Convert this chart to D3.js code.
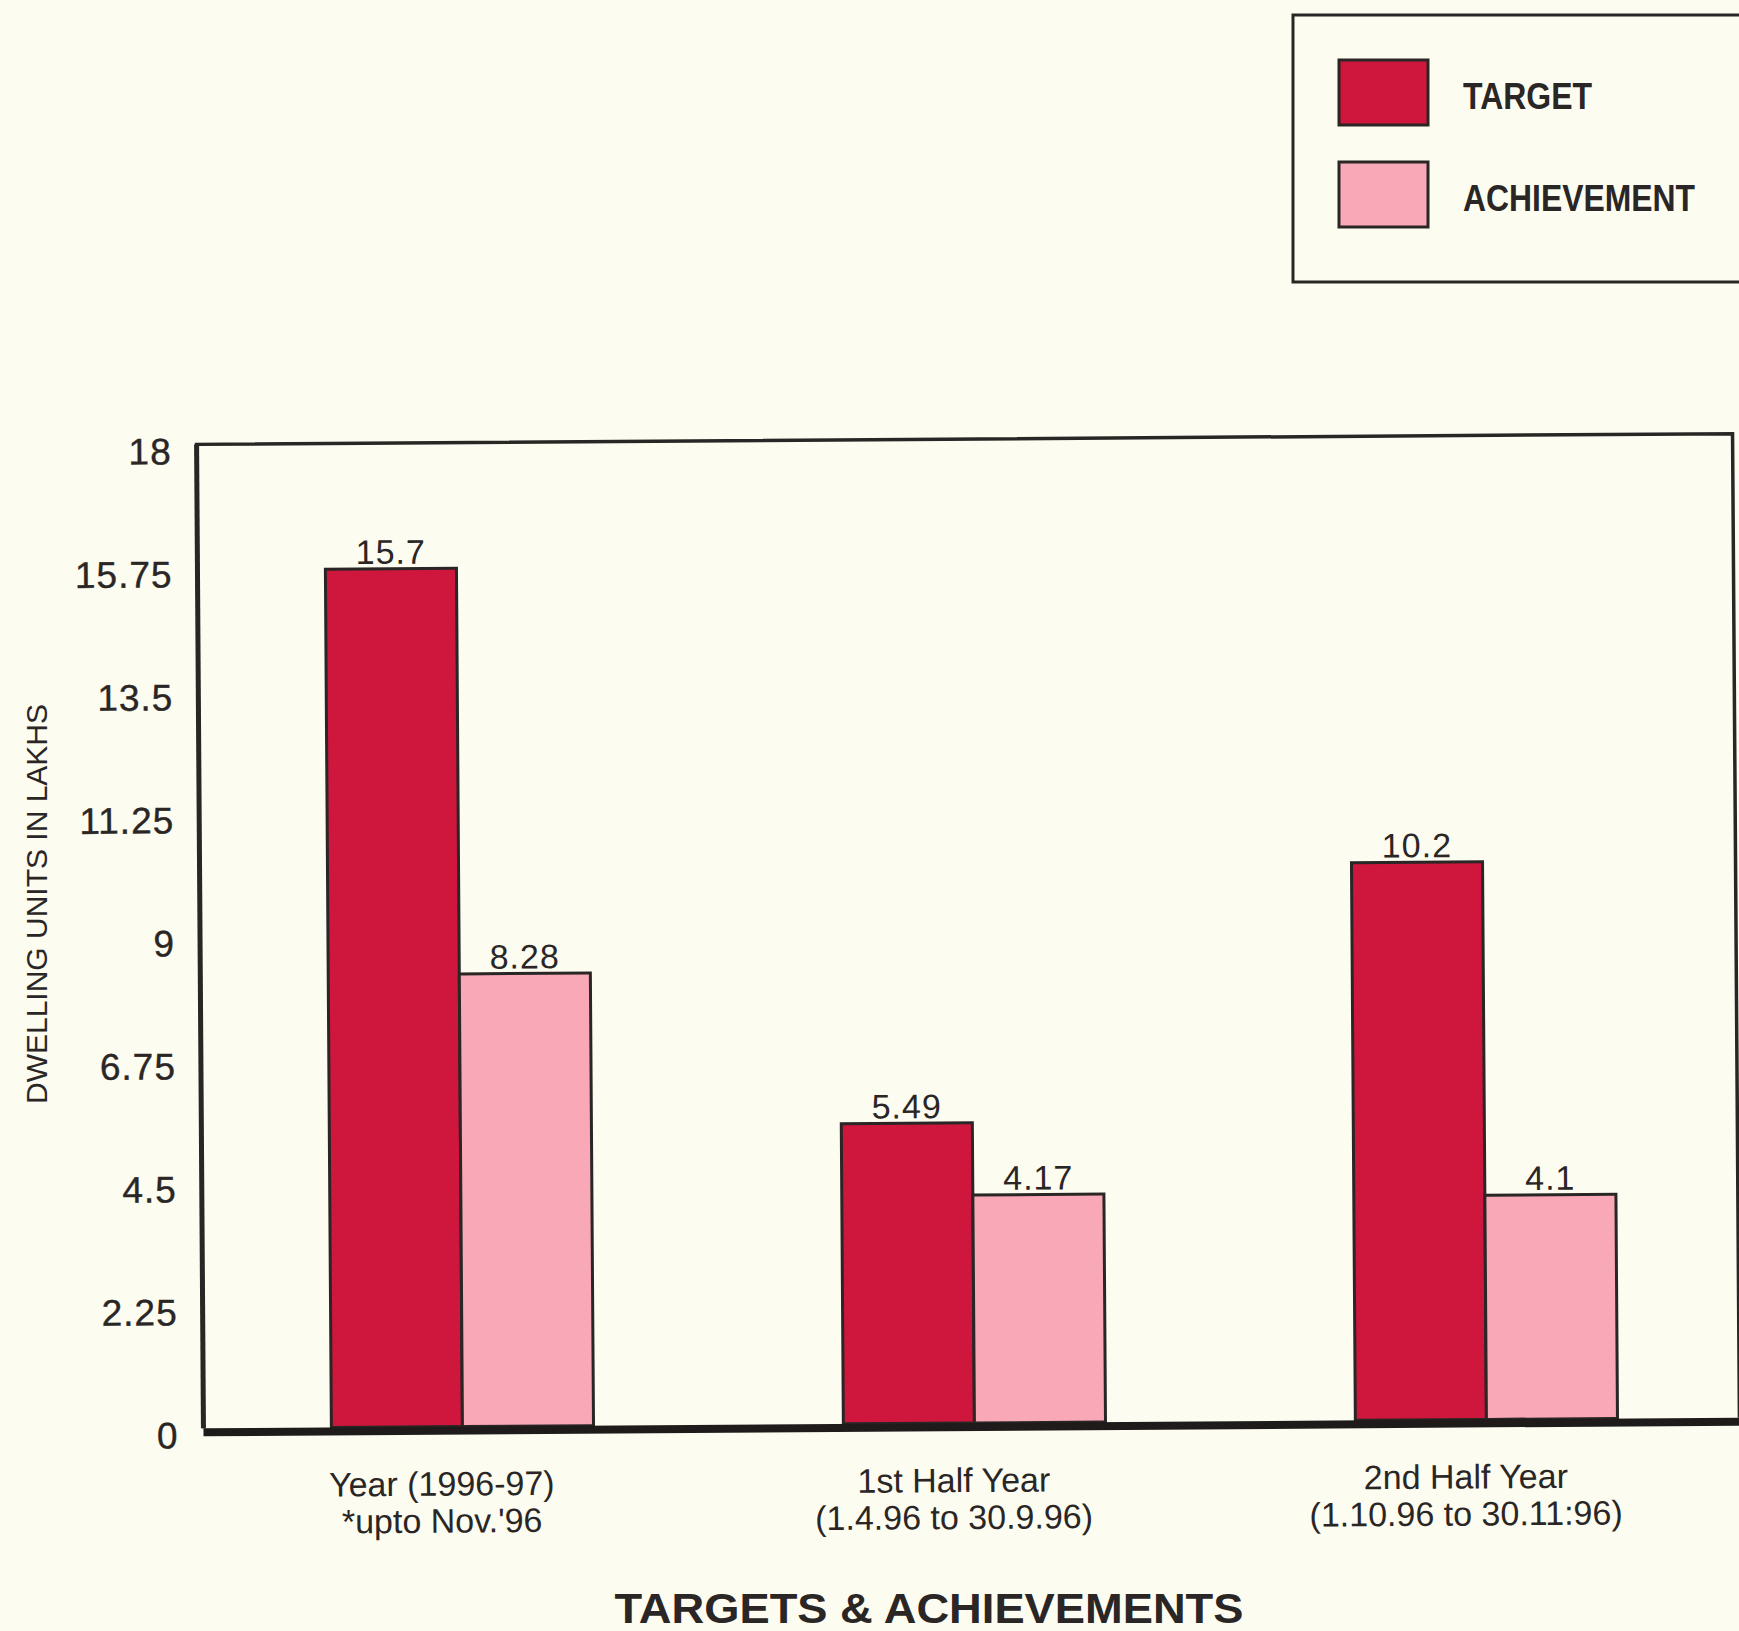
<!DOCTYPE html>
<html>
<head>
<meta charset="utf-8">
<script src="https://cdn.jsdelivr.net/npm/d3@7"></script>
<style>
  html, body { margin: 0; padding: 0; background: #fdfcf0; }
  svg { display: block; }
</style>
</head>
<body>
<svg id="chart" width="1739" height="1631"></svg>
<script>
// Dwelling units: targets vs achievements, 1996-97 (lakhs)
const categories = ["Year (1996-97)", "1st Half Year", "2nd Half Year"];
const categoryNotes = ["*upto Nov.'96", "(1.4.96 to 30.9.96)", "(1.10.96 to 30.11:96)"];
const seriesNames = ["TARGET", "ACHIEVEMENT"];
const targetValues = [15.7, 5.49, 10.2];
const achievementValues = [8.28, 4.17, 4.1];
const yTickValues = [0, 2.25, 4.5, 6.75, 9, 11.25, 13.5, 15.75, 18];
const yTickLabels = ["0", "2.25", "4.5", "6.75", "9", "11.25", "13.5", "15.75", "18"];
const yTitle = "DWELLING UNITS IN LAKHS";
const chartTitle = "TARGETS & ACHIEVEMENTS";

const colors = { TARGET: "#cf163c", ACHIEVEMENT: "#f9a8b7" };
const ink = "#2a2625";
const sans = "'Liberation Sans', Arial, sans-serif";
const narrow = "'Liberation Sans Narrow', 'Arial Narrow', 'Liberation Sans', sans-serif";

const rows = categories.map((c, i) => ({
  category: c,
  note: categoryNotes[i],
  values: [
    { series: seriesNames[0], value: targetValues[i] },
    { series: seriesNames[1], value: achievementValues[i] }
  ]
}));

const svg = d3.select("#chart");
const frame = { left: 200, right: 1736 };

const y = d3.scaleLinear().domain([0, 18]).range([1423, 439]);
const x0 = d3.scaleBand().domain(categories).range([203, 1739])
  .paddingInner(0.488).paddingOuter(0.244);
const x1 = d3.scaleBand().domain(seriesNames).range([0, x0.bandwidth()]);

// Plot area, slightly turned as on the printed sheet
const plot = svg.append("g").attr("transform", "rotate(-0.4, 968, 931)");

// Frame around the plot
plot.append("path")
  .attr("d", `M${frame.left},${y(0)} V${y(18)} H${frame.right} V${y(0)}`)
  .attr("fill", "none").attr("stroke", ink).attr("stroke-width", 3.5);
plot.append("line")
  .attr("x1", frame.left).attr("x2", frame.left)
  .attr("y1", y(18)).attr("y2", y(0))
  .attr("stroke", ink).attr("stroke-width", 5);

// Y axis labels
const yAxis = d3.axisLeft(y).tickValues(yTickValues).tickSize(0)
  .tickPadding(0).tickFormat((d, i) => yTickLabels[i]);
const yG = plot.append("g").attr("transform", "translate(175,0)").call(yAxis);
yG.select(".domain").remove();
yG.selectAll("text")
  .attr("font-family", sans).attr("font-size", 37).attr("fill", ink)
  .attr("stroke", ink).attr("stroke-width", 0.4)
  .attr("letter-spacing", 1).attr("dy", "0.52em");

// Bars
const groups = plot.selectAll(".grp").data(rows).join("g")
  .attr("class", "grp")
  .attr("transform", d => `translate(${x0(d.category)},0)`);

groups.selectAll("rect").data(d => d.values).join("rect")
  .attr("x", d => x1(d.series))
  .attr("y", d => y(d.value))
  .attr("width", x1.bandwidth())
  .attr("height", d => y(0) - y(d.value))
  .attr("fill", d => colors[d.series])
  .attr("stroke", ink).attr("stroke-width", 3);

groups.selectAll(".val").data(d => d.values).join("text")
  .attr("class", "val")
  .attr("x", d => x1(d.series) + x1.bandwidth() / 2)
  .attr("y", d => y(d.value) - 5)
  .attr("text-anchor", "middle")
  .attr("font-family", sans).attr("font-size", 34).attr("letter-spacing", 1)
  .attr("fill", ink)
  .text(d => d.value);

// Baseline (x axis domain) and category labels
const xAxis = d3.axisBottom(x0).tickSize(0).tickFormat("");
const xG = plot.append("g").attr("transform", `translate(0,${y(0) + 4})`).call(xAxis);
xG.select(".domain")
  .attr("d", `M${frame.left},0 H1739`)
  .attr("stroke", "#1f1b1a").attr("stroke-width", 8);

const labels = plot.selectAll(".xlab").data(rows).join("text")
  .attr("class", "xlab")
  .attr("text-anchor", "middle")
  .attr("font-family", sans).attr("font-size", 34).attr("fill", ink);
labels.append("tspan")
  .attr("x", d => x0(d.category) + x0.bandwidth() / 2 - 21)
  .attr("y", y(0) + 69)
  .text(d => d.category);
labels.append("tspan")
  .attr("x", d => x0(d.category) + x0.bandwidth() / 2 - 21)
  .attr("y", y(0) + 106)
  .text(d => d.note);

// Y axis title
svg.append("text")
  .attr("transform", "translate(47,904) rotate(-90)")
  .attr("text-anchor", "middle")
  .attr("font-family", narrow).attr("font-size", 30).attr("fill", ink)
  .attr("textLength", 400).attr("lengthAdjust", "spacingAndGlyphs")
  .text(yTitle);

// Chart title
svg.append("text")
  .attr("x", 929).attr("y", 1623)
  .attr("text-anchor", "middle")
  .attr("font-family", sans).attr("font-weight", "bold").attr("font-size", 42)
  .attr("fill", ink)
  .attr("textLength", 629).attr("lengthAdjust", "spacingAndGlyphs")
  .text(chartTitle);

// Legend
const legend = svg.append("g");
legend.append("rect")
  .attr("x", 1293).attr("y", 15).attr("width", 480).attr("height", 267)
  .attr("fill", "none").attr("stroke", ink).attr("stroke-width", 3);
const legendRows = [
  { name: seriesNames[0], y: 60, width: 129 },
  { name: seriesNames[1], y: 162, width: 232 }
];
legend.selectAll(".sw").data(legendRows).join("rect")
  .attr("class", "sw")
  .attr("x", 1339).attr("y", d => d.y).attr("width", 89).attr("height", 65)
  .attr("fill", d => colors[d.name])
  .attr("stroke", ink).attr("stroke-width", 3);
legend.selectAll(".lt").data(legendRows).join("text")
  .attr("class", "lt")
  .attr("x", 1463).attr("y", d => d.y + 49)
  .attr("font-family", narrow).attr("font-weight", "bold").attr("font-size", 37)
  .attr("fill", ink)
  .attr("textLength", d => d.width).attr("lengthAdjust", "spacingAndGlyphs")
  .text(d => d.name);
</script>
</body>
</html>
